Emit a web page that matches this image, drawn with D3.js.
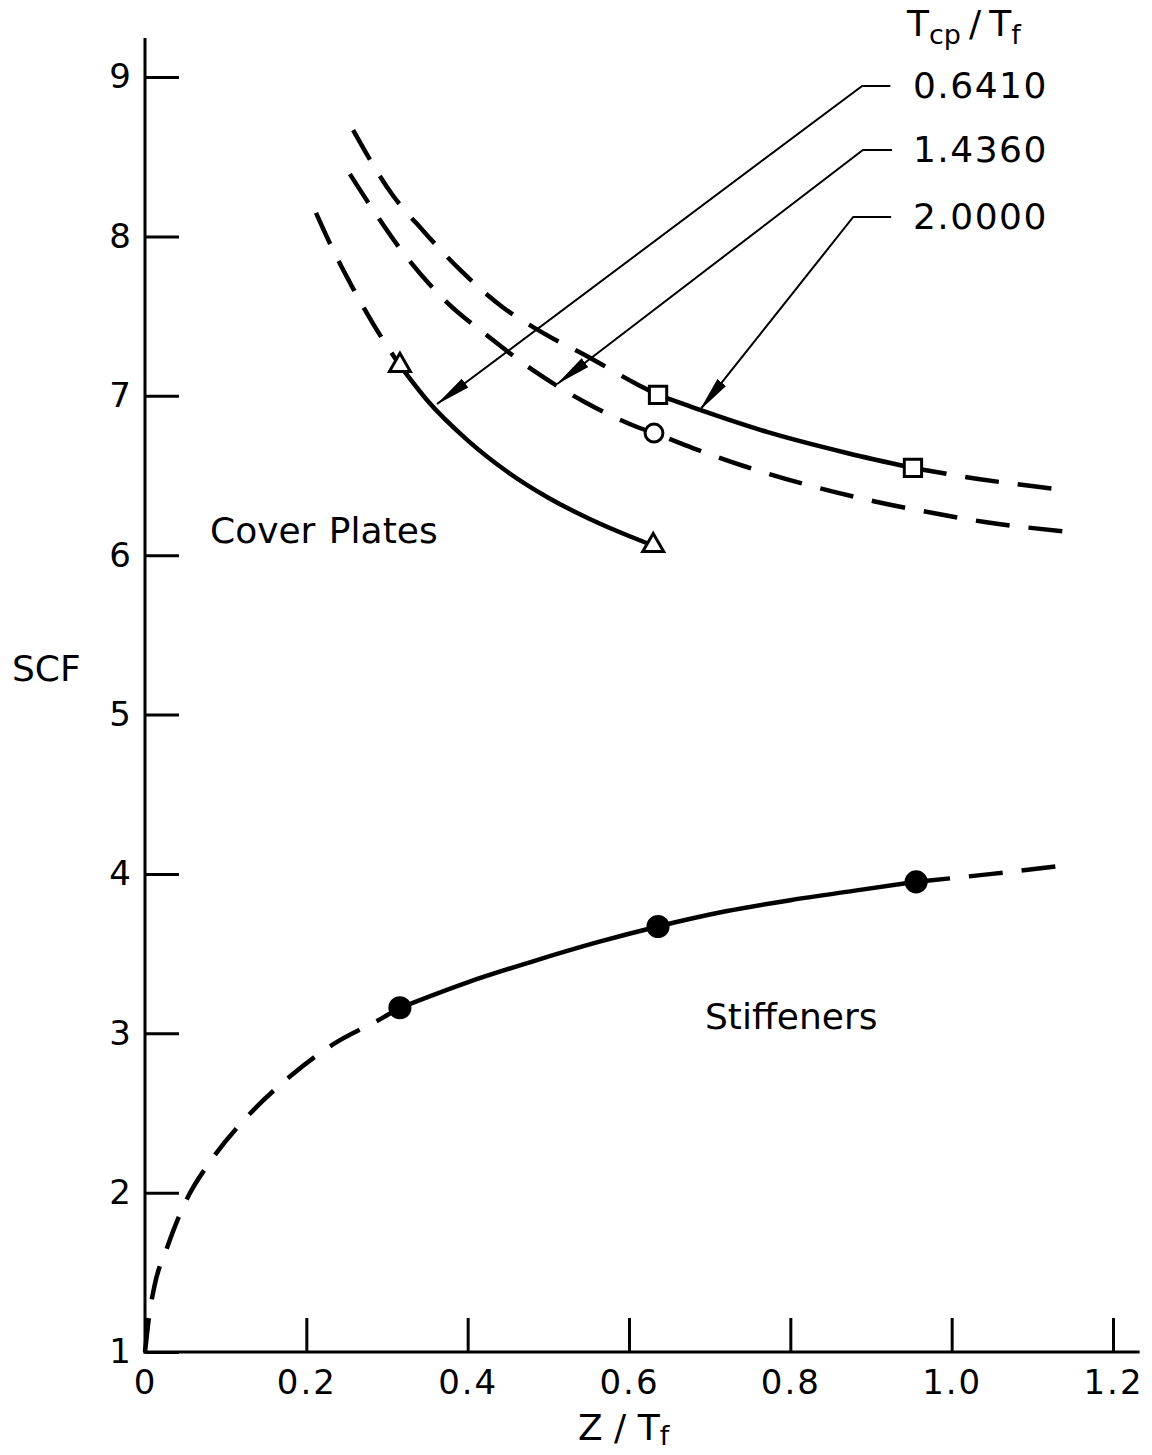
<!DOCTYPE html>
<style>
body {
  margin: 0;
  background: #fff;
}
svg {
  display: block;
  font-family: "DejaVu Sans", sans-serif;
}
.axis line,
.axisLine {
  stroke: #000;
  stroke-width: 3;
}
.axis text {
  font-size: 34px;
  fill: #000;
  font-family: "DejaVu Sans", sans-serif;
}
.curve {
  fill: none;
  stroke: #000;
  stroke-width: 4.5;
}
.dashed {
  stroke-dasharray: 34 19;
}
.leader {
  fill: none;
  stroke: #000;
  stroke-width: 2;
}
.label {
  font-size: 36px;
  fill: #000;
}
</style>
<svg width="1152" height="1455" viewBox="0 0 1152 1455"></svg>
<script src="https://cdn.jsdelivr.net/npm/d3@7"></script>
<script>

var xTicks = [0, 0.2, 0.4, 0.6, 0.8, 1.0, 1.2],
    yTicks = [1, 2, 3, 4, 5, 6, 7, 8, 9];

// Stiffeners
var stiffZ   = [0, 0.005, 0.012, 0.027, 0.05, 0.083, 0.131, 0.18, 0.233, 0.294, 0.316, 0.4, 0.48, 0.56, 0.636, 0.72, 0.8, 0.88, 0.956, 1.05, 1.135],
    stiffSCF = [1.0, 1.22, 1.42, 1.65, 1.94, 2.21, 2.5, 2.73, 2.93, 3.095, 3.16, 3.32, 3.45, 3.57, 3.67, 3.765, 3.835, 3.895, 3.95, 4.0, 4.05],
    stiffDotZ   = [0.316, 0.636, 0.956],
    stiffDotSCF = [3.16, 3.67, 3.95];

// Cover plates, Tcp/Tf = 0.6410 (triangles)
var cp1Z   = [0.212, 0.229, 0.257, 0.283, 0.316, 0.35, 0.4, 0.45, 0.5, 0.55, 0.6, 0.63],
    cp1SCF = [8.147, 7.958, 7.682, 7.45, 7.19, 6.97, 6.72, 6.52, 6.36, 6.23, 6.12, 6.06],
    cp1MarkZ   = [0.316, 0.63],
    cp1MarkSCF = [7.19, 6.06];

// Tcp/Tf = 1.4360 (circles)
var cp2Z   = [0.254, 0.278, 0.324, 0.374, 0.425, 0.486, 0.545, 0.61, 0.631, 0.679, 0.746, 0.812, 0.902, 0.977, 1.041, 1.148],
    cp2SCF = [8.391, 8.203, 7.871, 7.588, 7.375, 7.143, 6.961, 6.804, 6.766, 6.672, 6.553, 6.453, 6.34, 6.264, 6.208, 6.145],
    cp2MarkZ   = [0.631],
    cp2MarkSCF = [6.766];

// Tcp/Tf = 2.0000 (squares)
var cp3Z   = [0.258, 0.306, 0.345, 0.392, 0.443, 0.496, 0.552, 0.607, 0.636, 0.688, 0.771, 0.87, 0.952, 1.033, 1.142],
    cp3SCF = [8.667, 8.266, 8.034, 7.783, 7.557, 7.387, 7.237, 7.08, 7.005, 6.911, 6.773, 6.641, 6.547, 6.478, 6.408],
    cp3MarkZ   = [0.636, 0.952],
    cp3MarkSCF = [7.005, 6.547];

var ratioLabels = ["0.6410", "1.4360", "2.0000"];

var svg = d3.select("svg"),
    x = d3.scaleLinear().domain([0, 1.2]).range([145, 1113]),
    y = d3.scaleLinear().domain([1, 9]).range([1352, 77]);

svg.append("rect").attr("width", 1152).attr("height", 1455).attr("fill", "#fff");

// axes: ticks point inward
svg.append("g")
  .attr("class", "axis")
  .attr("transform", "translate(0," + y(1) + ")")
  .call(d3.axisBottom(x).tickValues(xTicks).tickSizeInner(-34).tickSizeOuter(0).tickPadding(18)
    .tickFormat(d => d === 0 ? "0" : d.toFixed(1)))
  .selectAll("text").attr("letter-spacing", 2);

svg.append("g")
  .attr("class", "axis")
  .attr("transform", "translate(" + x(0) + ",0)")
  .call(d3.axisLeft(y).tickValues(yTicks).tickSizeInner(-34).tickSizeOuter(0).tickPadding(14)
    .tickFormat(d3.format("d")));

svg.selectAll(".axis .domain").remove();

svg.append("line").attr("class", "axisLine")
  .attr("x1", x(0)).attr("x2", x(0)).attr("y1", y(1) + 1.5).attr("y2", y(9.245));
svg.append("line").attr("class", "axisLine")
  .attr("x1", x(0) - 1.5).attr("x2", x(1.233)).attr("y1", y(1)).attr("y2", y(1));

// curves
var line = d3.line()
  .x(d => x(d[0]))
  .y(d => y(d[1]))
  .curve(d3.curveMonotoneX);

function drawSeries(zs, scfs, solidFrom, solidTo) {
  var pts = zs.map((z, i) => [z, scfs[i]]),
      before = pts.filter(p => p[0] <= solidFrom),
      solid = pts.filter(p => p[0] >= solidFrom && p[0] <= solidTo),
      after = pts.filter(p => p[0] >= solidTo);
  if (before.length > 1) svg.append("path").attr("class", "curve dashed").attr("d", line(before));
  if (solid.length > 1) svg.append("path").attr("class", "curve").attr("d", line(solid));
  if (after.length > 1) svg.append("path").attr("class", "curve dashed").attr("d", line(after));
}

drawSeries(stiffZ, stiffSCF, 0.316, 0.956);
drawSeries(cp1Z, cp1SCF, 0.316, 0.63);
drawSeries(cp2Z, cp2SCF, Infinity, Infinity);
drawSeries(cp3Z, cp3SCF, 0.636, 0.952);

function drawMarkers(zs, scfs, type, size, filled) {
  svg.append("g").selectAll("path")
    .data(zs.map((z, i) => [z, scfs[i]]))
    .join("path")
    .attr("transform", d => "translate(" + x(d[0]) + "," + y(d[1]) + ")")
    .attr("d", d3.symbol().type(type).size(size))
    .attr("fill", filled ? "#000" : "#fff")
    .attr("stroke", "#000")
    .attr("stroke-width", filled ? 0 : 3);
}

drawMarkers(stiffDotZ, stiffDotSCF, d3.symbolCircle, 420, true);
drawMarkers(cp1MarkZ, cp1MarkSCF, d3.symbolTriangle, 190, false);
drawMarkers(cp2MarkZ, cp2MarkSCF, d3.symbolCircle, 250, false);
drawMarkers(cp3MarkZ, cp3MarkSCF, d3.symbolSquare, 300, false);

// leader arrows for the Tcp/Tf labels
svg.append("defs").append("marker")
  .attr("id", "arrow")
  .attr("markerUnits", "userSpaceOnUse")
  .attr("markerWidth", 36)
  .attr("markerHeight", 14)
  .attr("refX", 35)
  .attr("refY", 7)
  .attr("orient", "auto")
  .append("path")
  .attr("d", "M0,1.5 L36,7 L0,12.5 Z")
  .attr("fill", "#000");

var leaders = [
  { label: ratioLabels[0], end: [0.924, 8.944], knee: [0.889, 8.944], tip: [0.362, 6.948] },
  { label: ratioLabels[1], end: [0.926, 8.542], knee: [0.890, 8.542], tip: [0.511, 7.074] },
  { label: ratioLabels[2], end: [0.925, 8.122], knee: [0.878, 8.122], tip: [0.688, 6.911] }
];

leaders.forEach(l => {
  svg.append("path")
    .attr("class", "leader")
    .attr("marker-end", "url(#arrow)")
    .attr("d", d3.line()([[x(l.end[0]), y(l.end[1])], [x(l.knee[0]), y(l.knee[1])], [x(l.tip[0]), y(l.tip[1])]]));
  svg.append("text")
    .attr("class", "label")
    .attr("x", x(0.952))
    .attr("y", y(l.end[1]) + 12)
    .attr("font-size", 33)
    .attr("letter-spacing", 1.5)
    .text(l.label);
});

// legend title Tcp/Tf
var title = svg.append("text").attr("class", "label").attr("x", 907).attr("y", 36).attr("font-size", 32);
title.append("tspan").text("T");
title.append("tspan").attr("dy", 8).attr("font-size", 27).text("cp");
title.append("tspan").attr("dy", -8).attr("dx", 8).text("/");
title.append("tspan").attr("dx", 8).text("T");
title.append("tspan").attr("dy", 8).attr("font-size", 27).text("f");

// texts
svg.append("text").attr("class", "label").attr("x", 210).attr("y", 543).attr("font-size", 35).attr("word-spacing", 2).text("Cover Plates");
svg.append("text").attr("class", "label").attr("x", 705).attr("y", 1029).text("Stiffeners");
svg.append("text").attr("class", "label").attr("x", 12).attr("y", 681).text("SCF");

var xt = svg.append("text").attr("class", "label").attr("x", 578).attr("y", 1440).attr("font-size", 34);
xt.append("tspan").text("Z / T");
xt.append("tspan").attr("dy", 5).attr("font-size", 27).text("f");

</script>
